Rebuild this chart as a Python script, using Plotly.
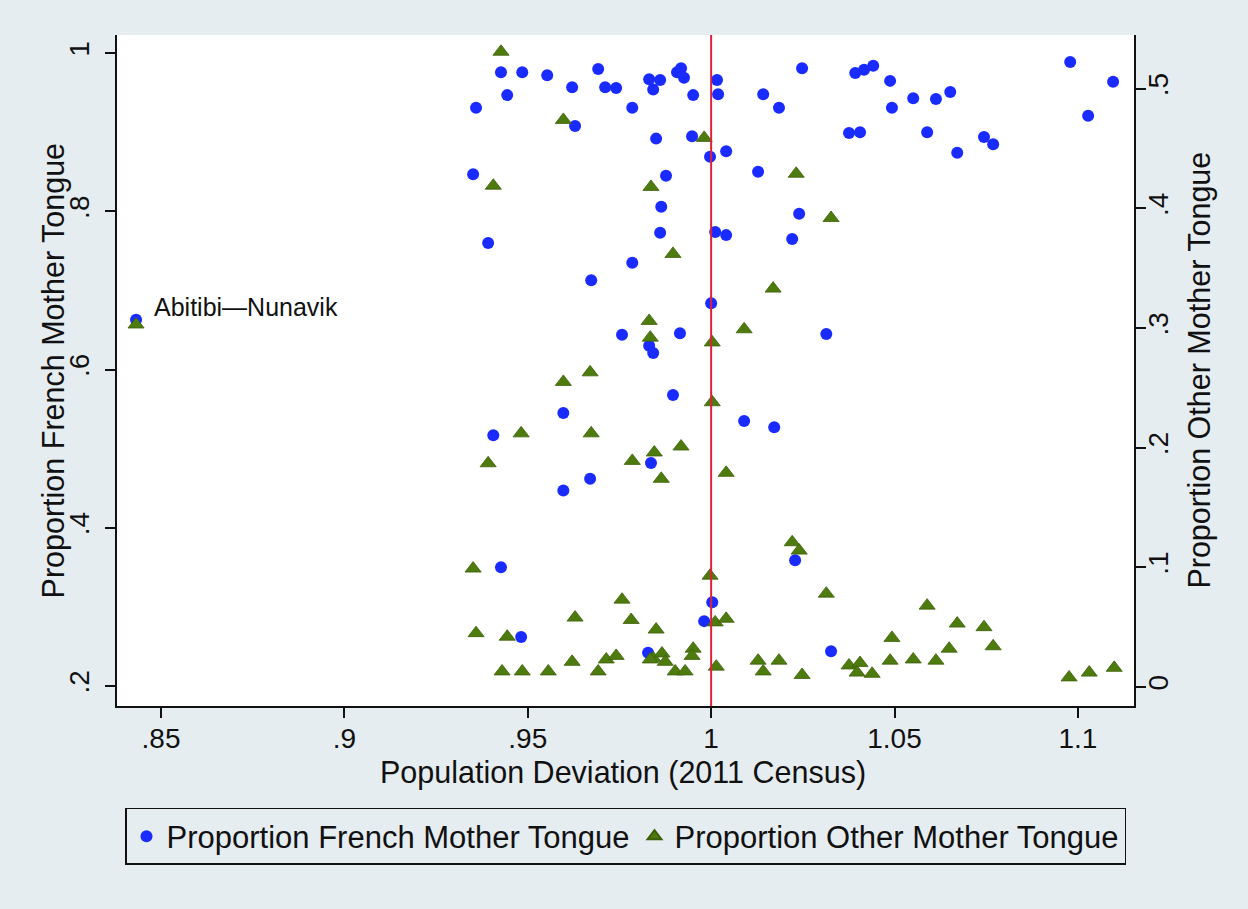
import plotly.graph_objects as go

# ---- data ----
french_x = [0.9427, 0.9485, 0.9553, 0.9692, 0.9621, 0.9711, 0.9741, 0.9831, 0.9861, 0.9842,
            0.9907, 0.9918, 0.9926, 0.9951, 1.0016, 1.0019, 0.9444, 0.9359, 0.9785, 0.9629,
            0.9850, 0.9948, 0.9997, 0.9351, 0.9877, 0.9864, 0.9861, 1.0011, 0.9392, 0.9785,
            0.9673, 1.0041, 1.0041, 1.0248, 1.0142, 1.0185, 1.0393, 1.0417, 1.0442, 1.0488,
            1.0493, 1.0551, 1.0613, 1.0652, 1.0376, 1.0406, 1.0589, 1.0671, 1.0744, 1.0769,
            1.0979, 1.1096, 1.1028, 1.0128, 1.0240, 1.0221, 1.0000, 0.9757, 0.9915, 0.9831,
            0.9842, 0.9896, 0.9597, 0.9406, 0.9836, 0.9670, 0.9597, 1.0314, 1.0090, 1.0172,
            0.9427, 0.9482, 1.0003, 0.9981, 0.9828, 1.0229, 1.0327, 0.8432]
french_y = [0.976, 0.976, 0.972, 0.980, 0.957, 0.957, 0.956, 0.967, 0.966, 0.954,
            0.976, 0.981, 0.969, 0.947, 0.966, 0.948, 0.947, 0.931, 0.931, 0.908,
            0.892, 0.895, 0.869, 0.847, 0.845, 0.806, 0.773, 0.774, 0.760, 0.735,
            0.713, 0.876, 0.770, 0.981, 0.948, 0.931, 0.975, 0.979, 0.984, 0.965,
            0.931, 0.943, 0.942, 0.951, 0.899, 0.900, 0.900, 0.874, 0.894, 0.885,
            0.989, 0.964, 0.921, 0.850, 0.797, 0.765, 0.684, 0.644, 0.646, 0.630,
            0.621, 0.568, 0.545, 0.517, 0.482, 0.462, 0.447, 0.645, 0.535, 0.527,
            0.350, 0.262, 0.306, 0.282, 0.242, 0.359, 0.244, 0.663]

other_x = [0.9427, 0.9597, 0.9981, 0.9406, 0.9836, 0.9896, 1.0232, 1.0327, 0.9831, 0.9834,
           1.0003, 0.9670, 0.9597, 1.0003, 0.9482, 0.9673, 0.9392, 0.9785, 0.9845, 0.9918,
           0.9864, 1.0169, 1.0090, 1.0041, 0.9351, 0.9997, 0.9757, 0.9629, 0.9782, 0.9850,
           0.9359, 0.9444, 1.0011, 0.9430, 0.9485, 0.9556, 0.9621, 0.9692, 0.9714, 0.9741,
           0.9842, 0.9866, 0.9875, 0.9951, 0.9948, 0.9902, 0.9929, 1.0014, 0.9834, 1.0221,
           1.0240, 1.0314, 1.0589, 1.0041, 1.0671, 1.0744, 1.0769, 1.0493, 1.0649, 1.0128,
           1.0142, 1.0185, 1.0248, 1.0376, 1.0406, 1.0398, 1.0439, 1.0488, 1.0551, 1.0613,
           1.0976, 1.1031, 1.1099, 0.8432]
other_y = [0.531, 0.474, 0.459, 0.419, 0.418, 0.362, 0.429, 0.392, 0.306, 0.292,
           0.288, 0.263, 0.255, 0.238, 0.212, 0.212, 0.187, 0.189, 0.196, 0.201,
           0.174, 0.333, 0.299, 0.179, 0.099, 0.093, 0.073, 0.058, 0.056, 0.048,
           0.045, 0.042, 0.054, 0.013, 0.013, 0.013, 0.021, 0.013, 0.023, 0.026,
           0.024, 0.028, 0.021, 0.032, 0.026, 0.013, 0.013, 0.017, 0.023, 0.121,
           0.114, 0.078, 0.068, 0.057, 0.053, 0.050, 0.034, 0.041, 0.032, 0.022,
           0.013, 0.022, 0.010, 0.018, 0.020, 0.012, 0.011, 0.022, 0.023, 0.022,
           0.008, 0.012, 0.016, 0.303]

x_ticks = [0.85, 0.9, 0.95, 1.0, 1.05, 1.1]
x_ticklabels = [".85", ".9", ".95", "1", "1.05", "1.1"]
yl_ticks = [0.2, 0.4, 0.6, 0.8, 1.0]
yl_ticklabels = [".2", ".4", ".6", ".8", "1"]
yr_ticks = [0.0, 0.1, 0.2, 0.3, 0.4, 0.5]
yr_ticklabels = ["0", ".1", ".2", ".3", ".4", ".5"]

label_point = (0.8432, 0.663)
label_text = "Abitibi\u2014Nunavik"

FONT = "Liberation Sans, Arial, Helvetica, sans-serif"
BG = "#e6edf1"
BLUE = "#1a2bff"
GREEN = "#4e7b0e"
TICKSIZE = 28
TITLESIZE = 30.5

fig = go.Figure()
fig.add_trace(go.Scatter(
    x=french_x, y=french_y, mode="markers", name="Proportion French Mother Tongue",
    marker=dict(symbol="circle", size=12, color=BLUE, line=dict(width=0)),
    yaxis="y"))
fig.add_trace(go.Scatter(
    x=other_x, y=other_y, mode="markers", name="Proportion Other Mother Tongue",
    marker=dict(symbol="triangle-up", size=14, color=GREEN,
                line=dict(width=0.8, color="#3d5f0a")),
    yaxis="y2"))

fig.add_shape(type="line", xref="x", yref="paper", x0=1.0, x1=1.0, y0=0, y1=1,
              line=dict(color="#e0203a", width=2), layer="above")

fig.add_annotation(x=label_point[0], y=label_point[1], xref="x", yref="y",
                   text=label_text, showarrow=False, xanchor="left", yanchor="middle",
                   xshift=16, yshift=13, font=dict(family=FONT, size=25, color="#111"))

# axis titles
fig.add_annotation(x=-0.062, y=0.5, xref="paper", yref="paper",
                   text="Proportion French Mother Tongue", textangle=-90, showarrow=False,
                   xanchor="center", yanchor="middle", font=dict(family=FONT, size=TITLESIZE, color="#111"))
fig.add_annotation(x=1.064, y=0.5, xref="paper", yref="paper",
                   text="Proportion Other Mother Tongue", textangle=-90, showarrow=False,
                   xanchor="center", yanchor="middle", font=dict(family=FONT, size=TITLESIZE, color="#111"))
fig.add_annotation(x=0.4975, y=-0.0998, xref="paper", yref="paper",
                   text="Population Deviation (2011 Census)", showarrow=False,
                   xanchor="center", yanchor="middle", font=dict(family=FONT, size=TITLESIZE, color="#111"))

fig.update_layout(
    width=1248, height=909,
    margin=dict(l=117, r=114, t=35, b=203),
    paper_bgcolor=BG, plot_bgcolor="white",
    font=dict(family=FONT, size=TICKSIZE, color="#111"),
    showlegend=True,
    legend=dict(orientation="h", x=0.5, xanchor="center", y=-0.152, yanchor="top",
                bgcolor=BG, bordercolor="#111", borderwidth=1.5,
                font=dict(family=FONT, size=31, color="#111"),
                itemsizing="constant", tracegroupgap=0),
    xaxis=dict(range=[0.838, 1.1153], tickvals=x_ticks, ticktext=x_ticklabels,
               showgrid=False, zeroline=False, showline=True, linecolor="#111", linewidth=1.5,
               ticks="outside", ticklen=10, tickwidth=1.5, tickcolor="#111",
               ticklabelstandoff=-3,
               tickfont=dict(family=FONT, size=TICKSIZE, color="#111")),
    yaxis=dict(range=[0.1747, 1.023], tickvals=yl_ticks, ticktext=yl_ticklabels,
               showgrid=False, zeroline=False, showline=True, linecolor="#111", linewidth=1.5,
               ticks="outside", ticklen=10, tickwidth=1.5, tickcolor="#111", tickangle=-90,
               ticklabelstandoff=5,
               tickfont=dict(family=FONT, size=TICKSIZE, color="#111")),
    yaxis2=dict(range=[-0.0159, 0.545], tickvals=yr_ticks, ticktext=yr_ticklabels,
                overlaying="y", side="right",
                showgrid=False, zeroline=False, showline=True, linecolor="#111", linewidth=1.5,
                ticks="outside", ticklen=10, tickwidth=1.5, tickcolor="#111", tickangle=-90,
                ticklabelstandoff=-11,
                tickfont=dict(family=FONT, size=TICKSIZE, color="#111")),
)

fig.write_html("out.html", config={"displayModeBar": False},
               post_script="document.body.style.margin='0';document.body.style.background='%s';" % BG)
